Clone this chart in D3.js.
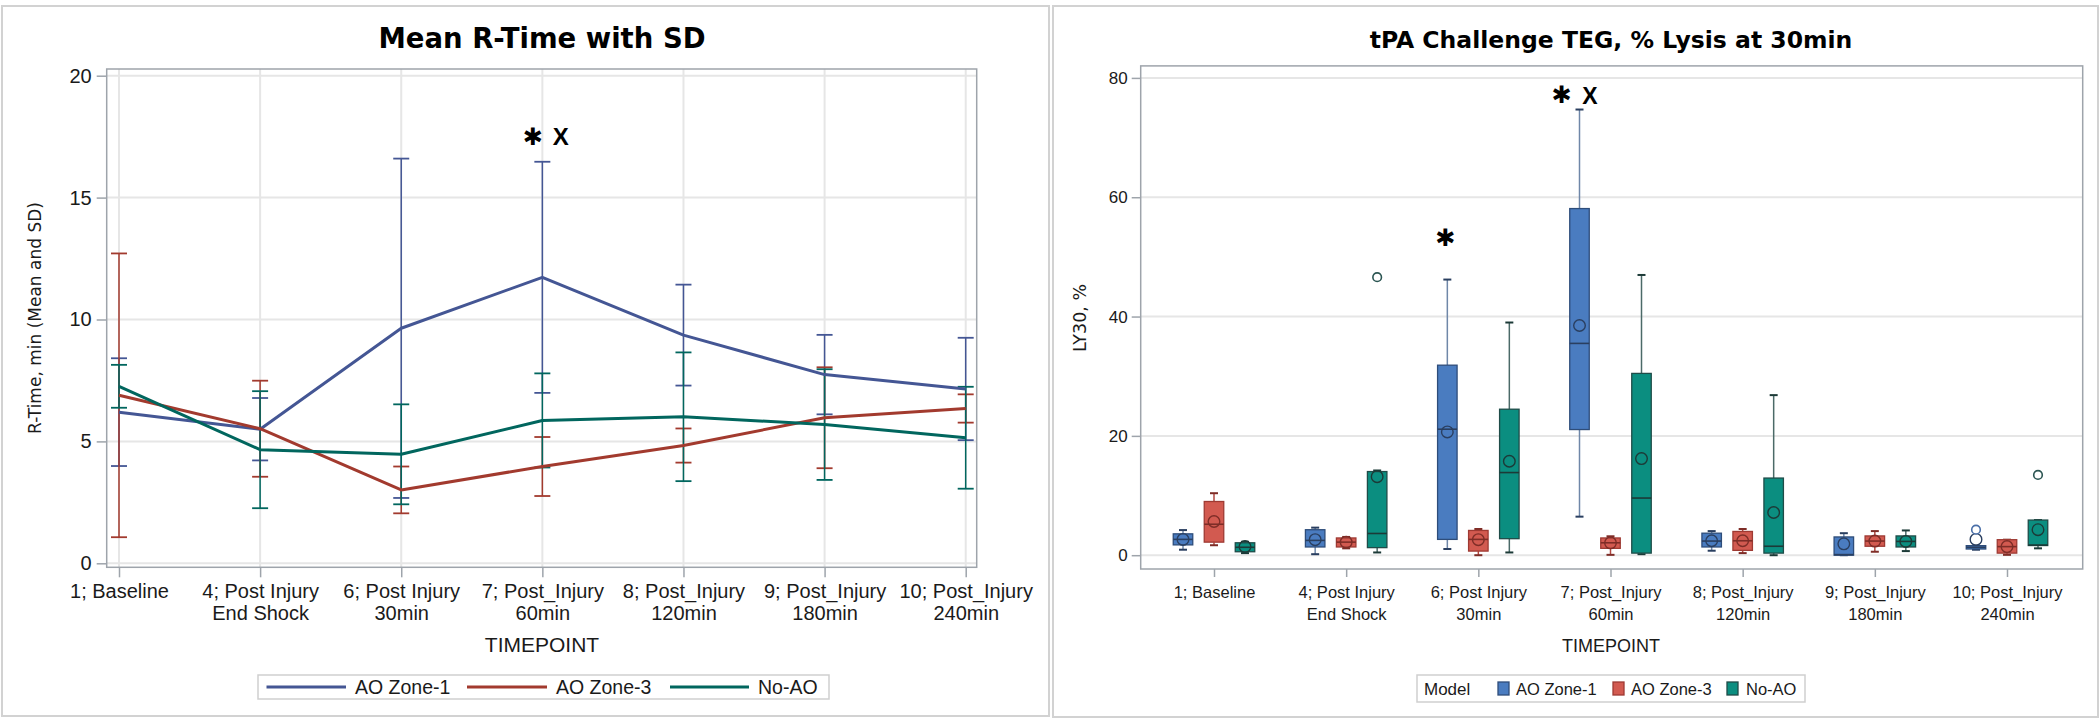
<!DOCTYPE html>
<html>
<head>
<meta charset="utf-8">
<script src="https://cdn.jsdelivr.net/npm/d3@7"></script>
<style>
  html, body { margin: 0; padding: 0; background: #ffffff; }
  svg { display: block; }
</style>
</head>
<body>
<svg id="chart" width="2100" height="721"></svg>
<script>
// ---------------- DATA ----------------
const categories = [
  "1; Baseline",
  "4; Post Injury|End Shock",
  "6; Post Injury|30min",
  "7; Post_Injury|60min",
  "8; Post_Injury|120min",
  "9; Post_Injury|180min",
  "10; Post_Injury|240min"
];
const seriesNames = ["AO Zone-1", "AO Zone-3", "No-AO"];

// Left chart: mean R-Time and SD per timepoint
const zone1Mean = [6.20, 5.50, 9.64, 11.73, 9.36, 7.74, 7.15];
const zone1SD   = [2.21, 1.28, 6.96, 4.74, 2.07, 1.63, 2.10];
const zone3Mean = [6.89, 5.52, 3.01, 3.97, 4.83, 5.97, 6.35];
const zone3SD   = [5.82, 1.97, 0.96, 1.21, 0.70, 2.07, 0.58];
const noAOMean  = [7.26, 4.66, 4.47, 5.86, 6.01, 5.69, 5.15];
const noAOSD    = [0.88, 2.40, 2.05, 1.93, 2.64, 2.27, 2.09];
const rTimeTicks = [0, 5, 10, 15, 20];

// Right chart: LY30 box stats per timepoint [whiskerLow, Q1, median, Q3, whiskerHigh, mean]
const zone1Box = [
  [0.92, 1.73, 2.65, 3.58, 4.21, 2.65],
  [0.17, 1.38, 2.48, 4.27, 4.62, 2.60],
  [1.04, 2.65, 21.12, 31.85, 46.2, 20.66],
  [6.46, 21.06, 35.5, 58.1, 74.7, 38.5],
  [0.75, 1.38, 2.37, 3.69, 4.04, 2.42],
  [0.00, 0.00, 0.10, 3.06, 3.69, 1.90],
  [0.92, 1.04, 1.33, 1.60, 1.60, 2.65]
];
const zone3Box = [
  [1.67, 2.19, 5.19, 9.00, 10.39, 5.65],
  [1.15, 1.38, 2.19, 2.89, 3.06, 2.19],
  [0.00, 0.69, 2.65, 4.15, 4.39, 2.60],
  [0.06, 1.15, 2.08, 2.89, 3.17, 2.08],
  [0.35, 0.81, 2.42, 3.98, 4.39, 2.42],
  [0.58, 1.50, 2.37, 3.23, 4.04, 2.37],
  [0.06, 0.35, 1.44, 2.60, 2.60, 1.44]
];
const noAOBox = [
  [0.35, 0.58, 1.33, 2.08, 2.25, 1.44],
  [0.46, 1.27, 3.64, 14.02, 14.2, 13.16],
  [0.46, 2.77, 13.85, 24.47, 39.0, 15.75],
  [0.17, 0.35, 9.58, 30.47, 46.97, 16.2],
  [0.00, 0.35, 1.50, 12.93, 26.83, 7.16],
  [0.69, 1.38, 2.31, 3.23, 4.15, 2.31],
  [1.15, 1.62, 1.70, 5.89, 5.89, 4.27]
];
// outliers: [categoryIndex, value]
const zone1Outliers = [[6, 4.27]];
const zone3Outliers = [];
const noAOOutliers  = [[1, 46.6], [6, 13.45]];
const ly30Ticks = [0, 20, 40, 60, 80];

// ---------------- STYLE ----------------
const lineColors = ["#445694", "#A23A2E", "#01665E"];
const boxFill    = ["#4a7cc0", "#d25a50", "#0b8e80"];
const boxStroke  = ["#2e4d7a", "#9e3a33", "#1f4c48"];
const whiskerCol = ["#6f87a8", "#b24840", "#4b6a68"];
const meanStroke = ["#2a3f60", "#7e2d27", "#1c3a37"];
const outlierCol = ["#4a6fa8", "#b24840", "#2b5552"];
const gridCol = "#e6e6e6";
const frameCol = "#9ea4ab";
const textCol = "#1a1a1a";
const SANS = "'Liberation Sans', Arial, sans-serif";
const WIDE = "'DejaVu Sans', Verdana, sans-serif";

const svg = d3.select("#chart");

// panel borders
svg.append("rect").attr("x", 2).attr("y", 6).attr("width", 1047).attr("height", 710)
  .attr("fill", "none").attr("stroke", "#d2d2d2").attr("stroke-width", 2);
svg.append("rect").attr("x", 1053).attr("y", 6).attr("width", 1045).attr("height", 711)
  .attr("fill", "none").attr("stroke", "#d2d2d2").attr("stroke-width", 2);

function drawCatLabels(g, fontSize, y0) {
  g.selectAll(".tick text").remove();
  g.selectAll(".tick").each(function(d) {
    const parts = d.split("|");
    const t = d3.select(this).append("text")
      .attr("fill", textCol).attr("text-anchor", "middle")
      .attr("font-family", SANS).attr("font-size", fontSize);
    parts.forEach((p, i) => {
      t.append("tspan").attr("x", 0).attr("y", y0 + i * 22).text(p);
    });
  });
}

function asterisk(g, cx, cy) {
  g.append("text").attr("x", cx).attr("y", cy).attr("text-anchor", "middle")
    .attr("dominant-baseline", "central").attr("font-family", WIDE).attr("font-weight", "bold")
    .attr("font-size", 24).attr("fill", "#000").text("\u2731");
}

// ================= LEFT CHART =================
(function() {
  const fx0 = 106.7, fx1 = 976.7, fy0 = 69, fy1 = 567.3;
  const x = d3.scalePoint().domain(categories).range([119, 965.7]);
  const y = d3.scaleLinear().domain([0, 20]).range([563.3, 75.7]);
  const g = svg.append("g");

  g.append("text").attr("x", 542).attr("y", 48).attr("text-anchor", "middle")
    .attr("font-family", WIDE).attr("font-weight", "bold").attr("font-size", 27.5)
    .attr("fill", "#000").text("Mean R-Time with SD");

  g.append("g").selectAll("line").data(rTimeTicks).join("line")
    .attr("x1", fx0).attr("x2", fx1).attr("y1", d => y(d)).attr("y2", d => y(d))
    .attr("stroke", gridCol).attr("stroke-width", 2);
  g.append("g").selectAll("line").data(categories).join("line")
    .attr("x1", d => x(d)).attr("x2", d => x(d)).attr("y1", fy0).attr("y2", fy1)
    .attr("stroke", gridCol).attr("stroke-width", 2);

  g.append("rect").attr("x", fx0).attr("y", fy0).attr("width", fx1 - fx0).attr("height", fy1 - fy0)
    .attr("fill", "none").attr("stroke", frameCol).attr("stroke-width", 1.5);

  const ya = g.append("g").attr("transform", `translate(${fx0},0)`)
    .call(d3.axisLeft(y).tickValues(rTimeTicks).tickSize(10).tickPadding(5));
  ya.select(".domain").remove();
  ya.selectAll(".tick line").attr("stroke", frameCol).attr("stroke-width", 1.5);
  ya.selectAll(".tick text").attr("font-family", SANS).attr("font-size", 20).attr("fill", textCol);

  const xa = g.append("g").attr("transform", `translate(0,${fy1})`)
    .call(d3.axisBottom(x).tickSize(10));
  xa.select(".domain").remove();
  xa.selectAll(".tick line").attr("stroke", frameCol).attr("stroke-width", 1.5);
  drawCatLabels(xa, 20, 31);

  g.append("text").attr("x", 542).attr("y", 652).attr("text-anchor", "middle")
    .attr("font-family", SANS).attr("font-size", 21).attr("fill", textCol).text("TIMEPOINT");
  g.append("text").attr("transform", "translate(35,318) rotate(-90)")
    .attr("text-anchor", "middle").attr("dy", "0.35em")
    .attr("font-family", WIDE).attr("font-size", 17).attr("fill", textCol)
    .text("R-Time, min (Mean and SD)");

  const means = [zone1Mean, zone3Mean, noAOMean];
  const sds = [zone1SD, zone3SD, noAOSD];
  const line = d3.line().x((d, i) => x(categories[i])).y(d => y(d));

  means.forEach((m, s) => {
    const eg = g.append("g");
    const recs = m.map((v, i) => ({ c: categories[i], lo: v - sds[s][i], hi: v + sds[s][i] }));
    eg.selectAll(".v").data(recs).join("line")
      .attr("x1", d => x(d.c)).attr("x2", d => x(d.c))
      .attr("y1", d => y(d.lo)).attr("y2", d => y(d.hi))
      .attr("stroke", lineColors[s]).attr("stroke-width", 1.5);
    ["lo", "hi"].forEach(k => {
      eg.selectAll(".c" + k).data(recs).join("line")
        .attr("x1", d => x(d.c) - 8).attr("x2", d => x(d.c) + 8)
        .attr("y1", d => y(d[k])).attr("y2", d => y(d[k]))
        .attr("stroke", lineColors[s]).attr("stroke-width", 1.8);
    });
  });
  means.forEach((m, s) => {
    g.append("path").datum(m).attr("d", line).attr("fill", "none")
      .attr("stroke", lineColors[s]).attr("stroke-width", 3).attr("stroke-linejoin", "round");
  });

  const ax = x(categories[3]);
  asterisk(g, ax - 9.5, 137);
  g.append("text").attr("x", ax + 18.5).attr("y", 145).attr("text-anchor", "middle")
    .attr("font-family", SANS).attr("font-weight", "bold")
    .attr("font-size", 24).attr("fill", "#000").text("X");

  const lg = g.append("g");
  lg.append("rect").attr("x", 258).attr("y", 675).attr("width", 571).attr("height", 24)
    .attr("fill", "#fff").attr("stroke", "#cfcfcf").attr("stroke-width", 1.5);
  const lx = [[266.5, 346, 355], [467, 547, 556], [670, 749, 758]];
  seriesNames.forEach((n, i) => {
    lg.append("line").attr("x1", lx[i][0]).attr("x2", lx[i][1]).attr("y1", 687).attr("y2", 687)
      .attr("stroke", lineColors[i]).attr("stroke-width", 3);
    lg.append("text").attr("x", lx[i][2]).attr("y", 694).attr("font-family", SANS)
      .attr("font-size", 19.5).attr("fill", textCol).text(n);
  });
})();

// ================= RIGHT CHART =================
(function() {
  const fx0 = 1140.7, fx1 = 2082.7, fy0 = 65.9, fy1 = 569;
  const x = d3.scalePoint().domain(categories).range([1214, 2007]);
  const y = d3.scaleLinear().domain([0, 80]).range([555.2, 77.9]);
  const g = svg.append("g");

  g.append("text").attr("x", 1611).attr("y", 48).attr("text-anchor", "middle")
    .attr("font-family", WIDE).attr("font-weight", "bold").attr("font-size", 23.5)
    .attr("fill", "#000").text("tPA Challenge TEG, % Lysis at 30min");

  g.append("g").selectAll("line").data(ly30Ticks).join("line")
    .attr("x1", fx0).attr("x2", fx1).attr("y1", d => y(d)).attr("y2", d => y(d))
    .attr("stroke", gridCol).attr("stroke-width", 2);

  g.append("rect").attr("x", fx0).attr("y", fy0).attr("width", fx1 - fx0).attr("height", fy1 - fy0)
    .attr("fill", "none").attr("stroke", frameCol).attr("stroke-width", 1.5);

  const ya = g.append("g").attr("transform", `translate(${fx0},0)`)
    .call(d3.axisLeft(y).tickValues(ly30Ticks).tickSize(9).tickPadding(4));
  ya.select(".domain").remove();
  ya.selectAll(".tick line").attr("stroke", frameCol).attr("stroke-width", 1.5);
  ya.selectAll(".tick text").attr("font-family", SANS).attr("font-size", 17).attr("fill", textCol);

  const xa = g.append("g").attr("transform", `translate(0,${fy1})`)
    .call(d3.axisBottom(x).tickSize(8));
  xa.select(".domain").remove();
  xa.selectAll(".tick line").attr("stroke", frameCol).attr("stroke-width", 1.5);
  drawCatLabels(xa, 16.5, 29);

  g.append("text").attr("x", 1611).attr("y", 652).attr("text-anchor", "middle")
    .attr("font-family", SANS).attr("font-size", 18).attr("fill", textCol).text("TIMEPOINT");
  g.append("text").attr("transform", "translate(1080,318) rotate(-90)")
    .attr("text-anchor", "middle").attr("dy", "0.35em")
    .attr("font-family", WIDE).attr("font-size", 17.5).attr("fill", textCol)
    .text("LY30, %");

  const boxes = [zone1Box, zone3Box, noAOBox];
  const outl = [zone1Outliers, zone3Outliers, noAOOutliers];
  const offs = [-31, 0, 31];
  const bw = 19.5, cap = 4;

  boxes.forEach((bx, s) => {
    const bg = g.append("g");
    const recs = bx.map((b, i) => ({ cx: x(categories[i]) + offs[s], lo: b[0], q1: b[1], med: b[2], q3: b[3], hi: b[4], mean: b[5] }));
    bg.selectAll(".wu").data(recs).join("line")
      .attr("x1", d => d.cx).attr("x2", d => d.cx).attr("y1", d => y(d.q3)).attr("y2", d => y(d.hi))
      .attr("stroke", whiskerCol[s]).attr("stroke-width", 1.5);
    bg.selectAll(".wl").data(recs).join("line")
      .attr("x1", d => d.cx).attr("x2", d => d.cx).attr("y1", d => y(d.q1)).attr("y2", d => y(d.lo))
      .attr("stroke", whiskerCol[s]).attr("stroke-width", 1.5);
    ["lo", "hi"].forEach(k => {
      bg.selectAll(".cap" + k).data(recs).join("line")
        .attr("x1", d => d.cx - cap).attr("x2", d => d.cx + cap)
        .attr("y1", d => y(d[k])).attr("y2", d => y(d[k]))
        .attr("stroke", meanStroke[s]).attr("stroke-width", 2);
    });
    bg.selectAll(".box").data(recs).join("rect")
      .attr("x", d => d.cx - bw / 2).attr("width", bw)
      .attr("y", d => y(d.q3)).attr("height", d => Math.max(1, y(d.q1) - y(d.q3)))
      .attr("fill", boxFill[s]).attr("stroke", boxStroke[s]).attr("stroke-width", 1.3);
    bg.selectAll(".med").data(recs).join("line")
      .attr("x1", d => d.cx - bw / 2).attr("x2", d => d.cx + bw / 2)
      .attr("y1", d => y(d.med)).attr("y2", d => y(d.med))
      .attr("stroke", meanStroke[s]).attr("stroke-width", 1.6);
    bg.selectAll(".mean").data(recs).join("circle")
      .attr("cx", d => d.cx).attr("cy", d => y(d.mean)).attr("r", 5.8)
      .attr("fill", "none").attr("stroke", meanStroke[s]).attr("stroke-width", 1.4);
    bg.selectAll(".out").data(outl[s]).join("circle")
      .attr("cx", d => x(categories[d[0]]) + offs[s]).attr("cy", d => y(d[1])).attr("r", 4.3)
      .attr("fill", "#fff").attr("stroke", outlierCol[s]).attr("stroke-width", 1.6);
  });

  const a3 = x(categories[2]) - 31;
  asterisk(g, a3 - 2, 237.5);
  const a4 = x(categories[3]) - 31;
  asterisk(g, a4 - 18, 95);
  g.append("text").attr("x", a4 + 10.5).attr("y", 103.5).attr("text-anchor", "middle")
    .attr("font-family", SANS).attr("font-weight", "bold")
    .attr("font-size", 23).attr("fill", "#000").text("X");

  const lg = g.append("g");
  lg.append("rect").attr("x", 1417).attr("y", 675).attr("width", 388).attr("height", 27)
    .attr("fill", "#fff").attr("stroke", "#cfcfcf").attr("stroke-width", 1.5);
  lg.append("text").attr("x", 1424).attr("y", 695).attr("font-family", SANS)
    .attr("font-size", 17).attr("fill", textCol).text("Model");
  const lx = [[1498, 1516], [1613, 1631], [1727, 1746]];
  seriesNames.forEach((n, i) => {
    lg.append("rect").attr("x", lx[i][0]).attr("y", 682).attr("width", 11).attr("height", 13)
      .attr("fill", boxFill[i]).attr("stroke", boxStroke[i]).attr("stroke-width", 1.3);
    lg.append("text").attr("x", lx[i][1]).attr("y", 695).attr("font-family", SANS)
      .attr("font-size", 16.5).attr("fill", textCol).text(n);
  });
})();
</script>
</body>
</html>
